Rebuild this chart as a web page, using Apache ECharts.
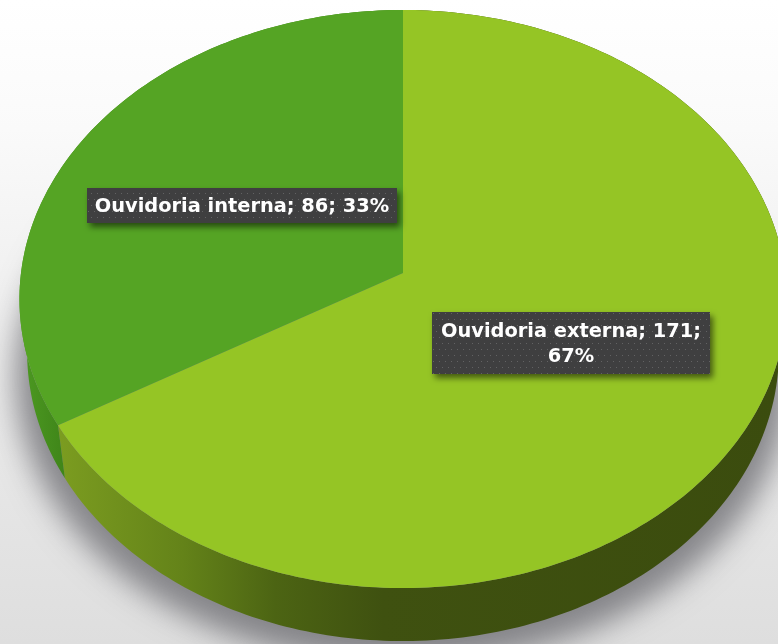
<!DOCTYPE html>
<html><head><meta charset="utf-8">
<style>html,body{margin:0;padding:0;background:#fff}#c{width:778px;height:644px}</style>
<script src="https://cdn.jsdelivr.net/npm/echarts@6/dist/echarts.min.js"></script>
</head><body><div id="c"></div>
<script>
const categories = ['Ouvidoria externa', 'Ouvidoria interna'];
const values = [171, 86];
const labelLines = [['Ouvidoria externa; 171;', '67%'], ['Ouvidoria interna; 86; 33%']];
const topColors = ['#95c525', '#55a424'];

const total = values.reduce((a, b) => a + b, 0);
const P = {cx: 403, cy: 273, a: 382, b: 286.7, k: 0.09, lowerDy: 53, lowerScale: 0.98};
const STEP = Math.PI / 180;

function project(theta, lower) {
  const u = Math.sin(theta), v = -Math.cos(theta), w = 1 - P.k * v;
  const sx = lower ? P.lowerScale : 1, dy = lower ? P.lowerDy : 0;
  return [P.cx + P.a * sx * u / w, P.cy + dy + P.b * v / w];
}
function arc(a0, a1, lower) {
  const n = Math.max(2, Math.ceil((a1 - a0) / STEP)), pts = [];
  for (let i = 0; i <= n; i++) pts.push(project(a0 + (a1 - a0) * i / n, lower));
  return pts;
}
function sliceAngles(idx) {
  let s = 0;
  for (let i = 0; i < idx; i++) s += values[i];
  return [s / total * 2 * Math.PI, (s + values[idx]) / total * 2 * Math.PI];
}
const dotCanvas = document.createElement('canvas');
dotCanvas.width = 12; dotCanvas.height = 12;
(function () {
  const g = dotCanvas.getContext('2d');
  g.fillStyle = '#3f3f40'; g.fillRect(0, 0, 12, 12);
  g.fillStyle = '#626263';
  [[1, 1], [7, 1], [4, 7], [10, 7]].forEach(p => g.fillRect(p[0], p[1], 1, 1));
})();

const wallFill = [
  {type: 'linear', x: 60, y: 0, x2: 778, y2: 0, global: true, colorStops: [
    {offset: 0, color: '#7b9c20'}, {offset: 0.17, color: '#648319'},
    {offset: 0.3, color: '#4c6413'}, {offset: 0.45, color: '#3f5110'}, {offset: 1, color: '#3b4c0e'}]},
  {type: 'linear', x: 20, y: 0, x2: 65, y2: 0, global: true, colorStops: [
    {offset: 0, color: '#4d9a22'}, {offset: 1, color: '#3f8519'}]}
];
const labelBoxes = [[432, 312, 278, 62], [87, 188, 310, 35]];

function shadowShape() {
  return arc(0, 2 * Math.PI, true).map(q => [P.cx + (q[0] - P.cx) * 1.03, q[1]]);
}

const option = {
  animation: false,
  backgroundColor: {type: 'linear', x: 0, y: 0, x2: 0, y2: 1, colorStops: [
    {offset: 0, color: '#ffffff'}, {offset: 0.2, color: '#fafafa'}, {offset: 0.5, color: '#eeeeee'}, {offset: 1, color: '#dedede'}]},
  series: [
    {type: 'custom', coordinateSystem: 'none', z: 1, silent: true, data: [0],
      renderItem: () => ({type: 'polygon', shape: {points: shadowShape()},
        x: -2000,
        style: {fill: '#000', shadowBlur: 30, shadowColor: 'rgba(110,110,115,0.8)', shadowOffsetX: 2000, shadowOffsetY: 24}})},
    {type: 'custom', name: 'walls', coordinateSystem: 'none', z: 2, silent: true, data: values,
      renderItem: (p) => {
        const [a0, a1] = sliceAngles(p.dataIndex);
        return {type: 'polygon',
          shape: {points: arc(a0, a1, false).concat(arc(a0, a1, true).reverse())},
          style: {fill: wallFill[p.dataIndex]}};
      }},
    {type: 'custom', name: 'tops', coordinateSystem: 'none', z: 3, silent: true, data: values,
      renderItem: (p) => {
        const [a0, a1] = sliceAngles(p.dataIndex);
        return {type: 'polygon',
          shape: {points: [[P.cx, P.cy]].concat(arc(a0, a1, false))},
          style: {fill: topColors[p.dataIndex]}};
      }},
    {type: 'custom', name: 'labels', coordinateSystem: 'none', z: 4, silent: true, data: categories,
      renderItem: (p) => {
        const b = labelBoxes[p.dataIndex];
        return {type: 'group', children: [
          {type: 'rect', shape: {x: b[0], y: b[1], width: b[2], height: b[3]},
            style: {fill: {image: dotCanvas, repeat: 'repeat'}, shadowBlur: 6, shadowOffsetX: 3, shadowOffsetY: 4, shadowColor: 'rgba(0,0,0,0.55)'}},
          {type: 'text', x: b[0] + b[2] / 2, y: b[1] + b[3] / 2 + 1,
            style: {text: labelLines[p.dataIndex].join('\n'), fill: '#fff', align: 'center', verticalAlign: 'middle',
              font: 'bold 19.4px "DejaVu Sans"', lineHeight: 25}}
        ]};
      }}
  ]
};
echarts.init(document.getElementById('c'), null, {renderer: 'canvas'}).setOption(option);
</script></body></html>
